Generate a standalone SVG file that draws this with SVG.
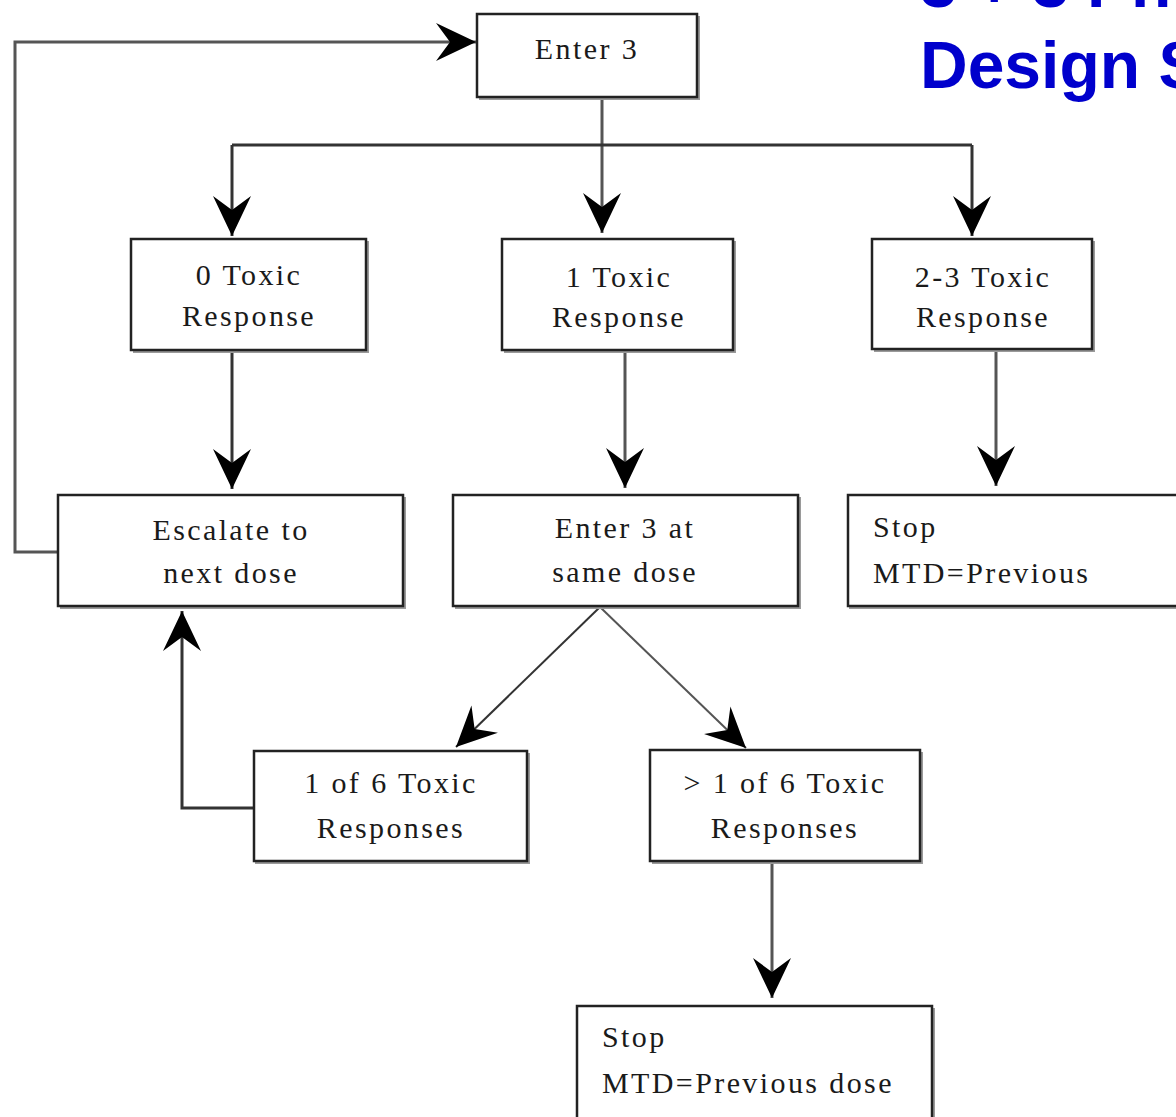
<svg xmlns="http://www.w3.org/2000/svg" width="1176" height="1117" viewBox="0 0 1176 1117">
<style>
  .box { fill: #ffffff; stroke: #222222; stroke-width: 2.5; }
  .shadow { fill: none; stroke: #9a9a9a; stroke-width: 2; }
  .lbl { font-family: "Liberation Serif", "Times New Roman", serif; font-size: 30px; letter-spacing: 2.4px; fill: #1a1a1a; }
  .c { text-anchor: middle; }
  .conn { fill: none; stroke: #555555; stroke-width: 3; }
  .dark { stroke: #333333; }
  .thin { stroke-width: 2; }
  .title { font-family: "Liberation Sans", Arial, sans-serif; font-weight: bold; font-size: 66px; fill: #0000cc; }
</style>
<defs>
  <marker id="ah" markerUnits="userSpaceOnUse" markerWidth="44" markerHeight="44" viewBox="-42 -22 44 44" refX="0" refY="0" orient="auto">
    <path d="M0,0 L-40,-19 L-26,0 L-40,19 Z" fill="#000000"/>
  </marker>
</defs>
<rect x="0" y="0" width="1176" height="1117" fill="#ffffff"/>

<g id="title">
  <text class="title" x="920" y="7">3 + 3 Ph</text>
  <text class="title" x="920" y="88">Design S</text>
</g>

<g id="connectors">
  <!-- Enter 3 to split -->
  <path class="conn" d="M602,97 L602,233" marker-end="url(#ah)"/>
  <path class="conn dark" d="M232,145 L972,145"/>
  <path class="conn dark" d="M232,145 L232,236" marker-end="url(#ah)"/>
  <path class="conn dark" d="M972,145 L972,236" marker-end="url(#ah)"/>
  <!-- down from response boxes -->
  <path class="conn dark" d="M232,350 L232,489" marker-end="url(#ah)"/>
  <path class="conn" d="M625,350 L625,488" marker-end="url(#ah)"/>
  <path class="conn" d="M996,350 L996,486" marker-end="url(#ah)"/>
  <!-- feedback loop to Enter 3 -->
  <path class="conn" d="M58,552 L15,552 L15,42 L476,42" marker-end="url(#ah)"/>
  <!-- diagonals -->
  <path class="conn thin dark" d="M600,607 L456,747" marker-end="url(#ah)"/>
  <path class="conn thin" d="M600,607 L746,748" marker-end="url(#ah)"/>
  <!-- 1 of 6 back to escalate -->
  <path class="conn dark" d="M268,808 L182,808 L182,611" marker-end="url(#ah)"/>
  <!-- > 1 of 6 to stop -->
  <path class="conn" d="M772,861 L772,998" marker-end="url(#ah)"/>
</g>

<g id="n-enter3">
  <path class="shadow" d="M699,16 L699,99 L479,99"/>
  <rect class="box" x="477" y="14" width="220" height="83"/>
  <text class="lbl c" x="587" y="59">Enter 3</text>
</g>

<g id="n-tox0">
  <path class="shadow" d="M368,241 L368,352 L133,352"/>
  <rect class="box" x="131" y="239" width="235" height="111"/>
  <text class="lbl c" x="249" y="285">0 Toxic</text>
  <text class="lbl c" x="249" y="326">Response</text>
</g>

<g id="n-tox1">
  <path class="shadow" d="M735,241 L735,352 L504,352"/>
  <rect class="box" x="502" y="239" width="231" height="111"/>
  <text class="lbl c" x="619" y="287">1 Toxic</text>
  <text class="lbl c" x="619" y="327">Response</text>
</g>

<g id="n-tox23">
  <path class="shadow" d="M1094,241 L1094,351 L874,351"/>
  <rect class="box" x="872" y="239" width="220" height="110"/>
  <text class="lbl c" x="983" y="287">2-3 Toxic</text>
  <text class="lbl c" x="983" y="327">Response</text>
</g>

<g id="n-escalate">
  <path class="shadow" d="M405,497 L405,608 L60,608"/>
  <rect class="box" x="58" y="495" width="345" height="111"/>
  <text class="lbl c" x="231" y="540">Escalate to</text>
  <text class="lbl c" x="231" y="583">next dose</text>
</g>

<g id="n-enter3same">
  <path class="shadow" d="M800,497 L800,608 L455,608"/>
  <rect class="box" x="453" y="495" width="345" height="111"/>
  <text class="lbl c" x="625" y="538">Enter 3 at</text>
  <text class="lbl c" x="625" y="582">same dose</text>
</g>

<g id="n-stop1">
  <path class="shadow" d="M849,608 L1176,608"/>
  <rect class="box" x="848" y="495" width="340" height="111"/>
  <text class="lbl" x="873" y="537">Stop</text>
  <text class="lbl" x="873" y="583">MTD=Previous</text>
</g>

<g id="n-oneof6">
  <path class="shadow" d="M529,753 L529,863 L255,863"/>
  <rect class="box" x="254" y="751" width="273" height="110"/>
  <text class="lbl c" x="391" y="793">1 of 6 Toxic</text>
  <text class="lbl c" x="391" y="838">Responses</text>
</g>

<g id="n-gt1of6">
  <path class="shadow" d="M922,752 L922,863 L652,863"/>
  <rect class="box" x="650" y="750" width="270" height="111"/>
  <text class="lbl c" x="785" y="793">&gt; 1 of 6 Toxic</text>
  <text class="lbl c" x="785" y="838">Responses</text>
</g>

<g id="n-stop2">
  <path class="shadow" d="M934,1008 L934,1117"/>
  <rect class="box" x="577" y="1006" width="355" height="120"/>
  <text class="lbl" x="602" y="1047">Stop</text>
  <text class="lbl" x="602" y="1093">MTD=Previous dose</text>
</g>
</svg>
